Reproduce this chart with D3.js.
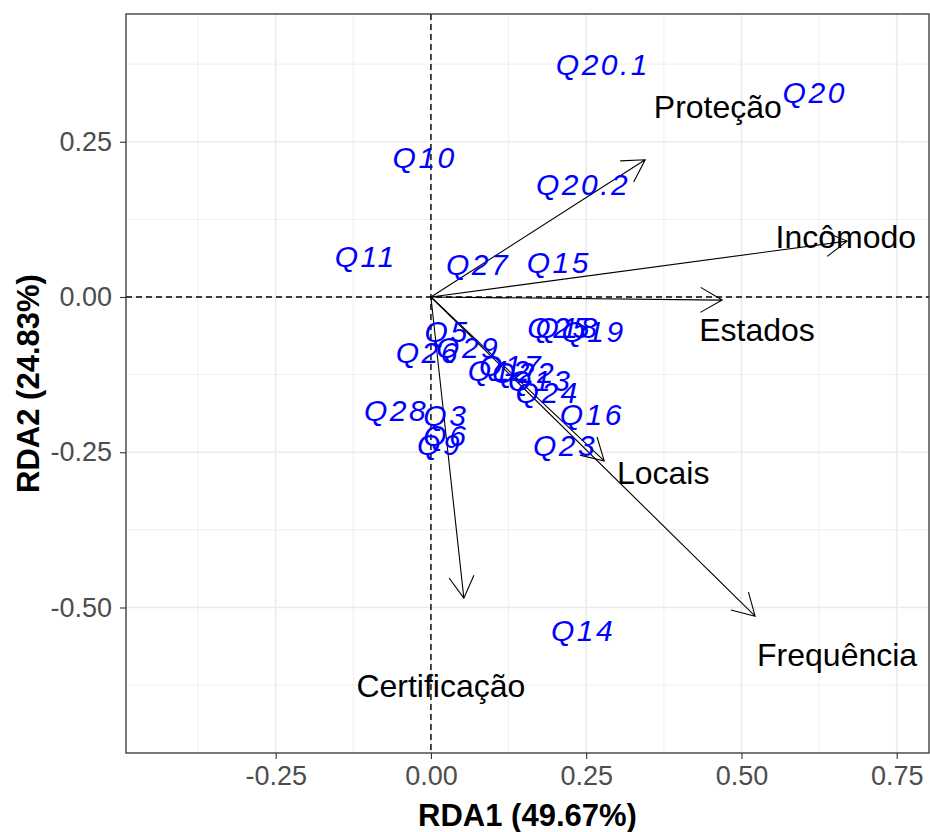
<!DOCTYPE html>
<html>
<head>
<meta charset="utf-8">
<script src="https://cdn.jsdelivr.net/npm/d3@7"></script>
<style>
    body { margin: 0; background: #fff; }
    text { font-family: "Liberation Sans", Arial, sans-serif; }
    .grid line { stroke: #ebebeb; }
    .axis text { font-size: 27px; fill: #4d4d4d; }
    .axis line { stroke: #333; stroke-width: 1.1; }
    .qlab { font-size: 30px; font-style: italic; fill: #0000ff; letter-spacing: 2.5px; }
    .envlab { font-size: 32px; fill: #000; }
</style>
</head>
<body>
<svg id="plot" width="930" height="832"></svg>
<script>
(function() {
    'use strict';

    // response scores (blue labels)
    var qNames = ['Q20.1','Q20','Q10','Q20.2','Q11','Q27','Q15',
                  'Q25','Q18','Q19','Q5','Q26','Q29',
                  'Q12','Q17','Q22','Q13','Q24','Q16','Q23',
                  'Q28','Q3','Q6','Q9','Q14'];
    var qX = [0.277, 0.618, -0.010, 0.245, -0.105, 0.076, 0.206,
              0.207, 0.220, 0.262, 0.026, -0.005, 0.060,
              0.111, 0.129, 0.150, 0.176, 0.188, 0.259, 0.216,
              -0.056, 0.024, 0.024, 0.014, 0.245];
    var qY = [0.375, 0.330, 0.225, 0.182, 0.066, 0.053, 0.056,
              -0.048, -0.048, -0.055, -0.055, -0.089, -0.081,
              -0.118, -0.110, -0.121, -0.134, -0.153, -0.188, -0.238,
              -0.182, -0.190, -0.222, -0.237, -0.536];

    // explanatory variables (arrows)
    var envNames = ['Proteção','Incômodo','Estados','Locais','Frequência','Certificação'];
    var envX = [0.345, 0.670, 0.469, 0.279, 0.522, 0.053];
    var envY = [0.221, 0.090, -0.005, -0.264, -0.514, -0.485];
    var envLabX = [0.462, 0.668, 0.525, 0.374, 0.654, 0.016];
    var envLabY = [0.306, 0.097, -0.053, -0.283, -0.576, -0.626];

    var xTicks = [-0.25, 0, 0.25, 0.5, 0.75];
    var yTicks = [0.25, 0, -0.25, -0.5];
    var xMinor = [-0.375, -0.125, 0.125, 0.375, 0.625];
    var yMinor = [0.375, 0.125, -0.125, -0.375, -0.625];

    var xTitle = 'RDA1 (49.67%)',
        yTitle = 'RDA2 (24.83%)';

    /******************************************************************
        scales
     ******************************************************************/
    var left = 126, right = 929, top = 14, bottom = 753;

    var x = d3.scaleLinear().domain([-0.491, 0.802]).range([left, right]);
    var y = d3.scaleLinear().domain([-0.7343, 0.4557]).range([bottom, top]);

    var svg = d3.select('#plot');

    /******************************************************************
        grid
     ******************************************************************/
    var grid = svg.append('g').attr('class', 'grid');

    grid.selectAll('.xmin').data(xMinor).enter().append('line')
        .attr('x1', x).attr('x2', x).attr('y1', top).attr('y2', bottom)
        .attr('stroke-width', 0.8);
    grid.selectAll('.ymin').data(yMinor).enter().append('line')
        .attr('y1', y).attr('y2', y).attr('x1', left).attr('x2', right)
        .attr('stroke-width', 0.8);
    grid.selectAll('.xmaj').data(xTicks).enter().append('line')
        .attr('x1', x).attr('x2', x).attr('y1', top).attr('y2', bottom)
        .attr('stroke-width', 1.6);
    grid.selectAll('.ymaj').data(yTicks).enter().append('line')
        .attr('y1', y).attr('y2', y).attr('x1', left).attr('x2', right)
        .attr('stroke-width', 1.6);

    // zero reference lines
    svg.append('line')
        .attr('x1', x(0)).attr('x2', x(0)).attr('y1', top).attr('y2', bottom)
        .attr('stroke', '#000').attr('stroke-width', 1.4).attr('stroke-dasharray', '6,4');
    svg.append('line')
        .attr('x1', left).attr('x2', right).attr('y1', y(0)).attr('y2', y(0))
        .attr('stroke', '#000').attr('stroke-width', 1.4).attr('stroke-dasharray', '6,4');

    /******************************************************************
        arrows
     ******************************************************************/
    var headLen = 25, headAng = Math.PI / 6;

    function arrowPath(i) {
        var x0 = x(0), y0 = y(0), x1 = x(envX[i]), y1 = y(envY[i]);
        var a = Math.atan2(y0 - y1, x0 - x1);
        var b1 = [x1 + headLen * Math.cos(a + headAng), y1 + headLen * Math.sin(a + headAng)];
        var b2 = [x1 + headLen * Math.cos(a - headAng), y1 + headLen * Math.sin(a - headAng)];
        return 'M' + [x0, y0] + 'L' + [x1, y1] +
               'M' + b1 + 'L' + [x1, y1] + 'L' + b2;
    }

    svg.append('g').selectAll('path')
        .data(d3.range(envNames.length)).enter().append('path')
            .attr('d', arrowPath)
            .attr('fill', 'none')
            .attr('stroke', '#000')
            .attr('stroke-width', 1.1);

    svg.append('g').selectAll('text')
        .data(d3.range(envNames.length)).enter().append('text')
            .attr('class', 'envlab')
            .attr('x', function(i) { return x(envLabX[i]); })
            .attr('y', function(i) { return y(envLabY[i]); })
            .attr('dy', '0.36em')
            .attr('text-anchor', 'middle')
            .text(function(i) { return envNames[i]; });

    svg.append('g').selectAll('text')
        .data(d3.range(qNames.length)).enter().append('text')
            .attr('class', 'qlab')
            .attr('x', function(i) { return x(qX[i]); })
            .attr('y', function(i) { return y(qY[i]); })
            .attr('dy', '0.36em')
            .attr('text-anchor', 'middle')
            .text(function(i) { return qNames[i]; });

    /******************************************************************
        axes + border
     ******************************************************************/
    var fmt = function(d) { return d.toFixed(2); };

    svg.append('g')
        .attr('class', 'axis')
        .attr('transform', 'translate(0,' + bottom + ')')
        .call(d3.axisBottom(x).tickValues(xTicks).tickFormat(fmt).tickSize(6).tickPadding(7))
        .call(function(g) { g.select('.domain').remove(); });

    svg.append('g')
        .attr('class', 'axis')
        .attr('transform', 'translate(' + left + ',0)')
        .call(d3.axisLeft(y).tickValues(yTicks).tickFormat(fmt).tickSize(6).tickPadding(8))
        .call(function(g) { g.select('.domain').remove(); });

    svg.selectAll('.axis text').attr('font-family', null);

    svg.append('rect')
        .attr('x', left).attr('y', top)
        .attr('width', right - left).attr('height', bottom - top)
        .attr('fill', 'none')
        .attr('stroke', '#333')
        .attr('stroke-width', 1.3);

    svg.append('text')
        .attr('x', (left + right) / 2)
        .attr('y', 826)
        .attr('text-anchor', 'middle')
        .attr('font-size', 31)
        .attr('font-weight', 'bold')
        .text(xTitle);

    svg.append('text')
        .attr('transform', 'translate(39,' + (top + bottom) / 2 + ') rotate(-90)')
        .attr('text-anchor', 'middle')
        .attr('font-size', 31)
        .attr('font-weight', 'bold')
        .text(yTitle);
})();
</script>
</body>
</html>
